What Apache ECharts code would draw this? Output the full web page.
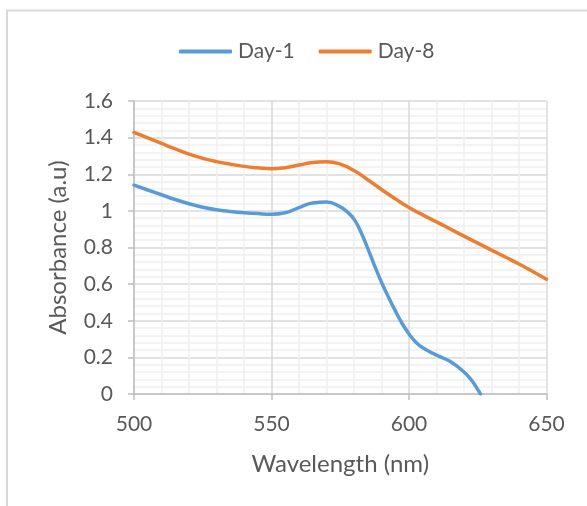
<!DOCTYPE html>
<html>
<head>
<meta charset="utf-8">
<script src="https://cdn.jsdelivr.net/npm/echarts@6/dist/echarts.min.js"></script>
<style>
  html, body { margin: 0; padding: 0; background: #fff; }
  #chart { width: 587px; height: 506px; }
</style>
</head>
<body>
<div id="chart"></div>
<script>
// Absorbance spectra (a.u) against wavelength (nm)
const day1Wavelengths = [500, 505, 510, 515, 520, 525, 530, 535, 540, 545, 550, 555, 560, 565, 570, 575, 577.5, 580, 582.5, 585, 587.5, 590, 592.5, 595, 597.5, 600, 602.5, 605, 610, 615, 620, 622.5, 625, 626];
const day1Absorbance = [1.141, 1.114, 1.088, 1.062, 1.039, 1.020, 1.006, 0.997, 0.990, 0.985, 0.982, 0.990, 1.018, 1.043, 1.048, 1.022, 0.995, 0.955, 0.885, 0.795, 0.700, 0.610, 0.530, 0.455, 0.385, 0.328, 0.283, 0.252, 0.212, 0.178, 0.120, 0.080, 0.025, 0];

const day8Wavelengths = [500, 505, 510, 515, 520, 525, 530, 535, 540, 545, 550, 555, 560, 565, 570, 575, 580, 585, 590, 595, 600, 605, 610, 615, 620, 625, 630, 635, 640, 645, 650];
const day8Absorbance = [1.428, 1.398, 1.368, 1.338, 1.310, 1.287, 1.269, 1.255, 1.243, 1.235, 1.230, 1.236, 1.250, 1.264, 1.268, 1.255, 1.220, 1.170, 1.117, 1.066, 1.018, 0.978, 0.940, 0.901, 0.862, 0.824, 0.786, 0.748, 0.710, 0.669, 0.627];

const seriesNames = ['Day-1', 'Day-8'];
const seriesColors = ['#5b9bd5', '#ed7d31'];

const pairs = (xs, ys) => xs.map((x, i) => [x, ys[i]]);

const FONT = 'Lato';
const TEXT = '#595959';

const chart = echarts.init(document.getElementById('chart'), null, { renderer: 'canvas' });

chart.setOption({
  animation: false,
  backgroundColor: '#ffffff',
  graphic: [{
    type: 'rect',
    shape: { x: 7, y: 10.5, width: 700, height: 600 },
    style: { fill: 'none', stroke: '#d9d9d9', lineWidth: 2 },
    silent: true
  }],
  legend: {
    left: 174,
    top: 36,
    itemWidth: 53,
    itemHeight: 4,
    itemGap: 24,
    icon: 'roundRect',
    textStyle: { fontFamily: FONT, fontSize: 21, color: TEXT, padding: [0, 0, 0, 1] },
    data: seriesNames
  },
  grid: { left: 134, right: 40.5, top: 101, bottom: 112 },
  xAxis: {
    type: 'value',
    min: 500, max: 650, interval: 50,
    name: 'Wavelength (nm)',
    nameLocation: 'middle',
    nameGap: 58,
    nameTextStyle: { fontFamily: FONT, fontSize: 24, color: TEXT },
    axisLine: { lineStyle: { color: '#bfbfbf', width: 1.5 } },
    axisTick: { show: true, length: 6, lineStyle: { color: '#bfbfbf', width: 1.5 } },
    axisLabel: { fontFamily: FONT, fontSize: 21, color: TEXT, margin: 20 },
    splitLine: { show: true, lineStyle: { color: '#d9d9d9', width: 1.5 } },
    minorTick: { show: false, splitNumber: 5 },
    minorSplitLine: { show: true, lineStyle: { color: '#f0f0f0', width: 1.5 } }
  },
  yAxis: {
    type: 'value',
    min: 0, max: 1.6, interval: 0.2,
    name: 'Absorbance (a.u)',
    nameLocation: 'middle',
    nameGap: 64,
    nameTextStyle: { fontFamily: FONT, fontSize: 24, color: TEXT },
    axisLine: { show: true, lineStyle: { color: '#bfbfbf', width: 1.5 } },
    axisTick: { show: true, length: 6, lineStyle: { color: '#bfbfbf', width: 1.5 } },
    axisLabel: {
      fontFamily: FONT, fontSize: 21, color: TEXT, margin: 21,
      formatter: v => String(Math.round(v * 10) / 10)
    },
    splitLine: { show: true, lineStyle: { color: '#d9d9d9', width: 1.5 } },
    minorTick: { show: false, splitNumber: 5 },
    minorSplitLine: { show: true, lineStyle: { color: '#f0f0f0', width: 1.5 } }
  },
  series: [
    {
      name: seriesNames[0],
      type: 'line',
      data: pairs(day1Wavelengths, day1Absorbance),
      smooth: 0.5,
      showSymbol: false,
      symbol: 'none',
      color: seriesColors[0],
      lineStyle: { color: seriesColors[0], width: 3.5, cap: 'round' },
      z: 3
    },
    {
      name: seriesNames[1],
      type: 'line',
      data: pairs(day8Wavelengths, day8Absorbance),
      smooth: 0.5,
      showSymbol: false,
      symbol: 'none',
      color: seriesColors[1],
      lineStyle: { color: seriesColors[1], width: 3.5, cap: 'round' },
      z: 4
    }
  ]
});
</script>
</body>
</html>
